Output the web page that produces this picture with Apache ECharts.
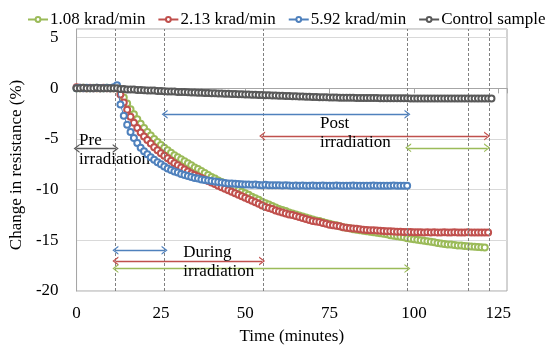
<!DOCTYPE html>
<html><head><meta charset="utf-8">
<script src="https://cdn.jsdelivr.net/npm/echarts@6/dist/echarts.min.js"></script>
<style>html,body{margin:0;padding:0;background:#fff}#c{width:550px;height:351px}</style>
</head><body><div id="c"></div>
<script>
// sampling times (minutes)
const minutes = [0,1,2,3,4,5,6,7,8,9,10,11,12,13,14,15,16,17,18,19,20,21,22,23,24,25,26,27,28,29,30,31,32,33,34,35,36,37,38,39,40,41,42,43,44,45,46,47,48,49,50,51,52,53,54,55,56,57,58,59,60,61,62,63,64,65,66,67,68,69,70,71,72,73,74,75,76,77,78,79,80,81,82,83,84,85,86,87,88,89,90,91,92,93,94,95,96,97,98,99,100,101,102,103,104,105,106,107,108,109,110,111,112,113,114,115,116,117,118,119,120,121,122,123];
const seriesNames = ['1.08 krad/min','2.13 krad/min','5.92 krad/min','Control sample'];
const green108 = [0,0,0.05,0,0,0.05,0,0,0,0.05,0,0,0.05,
 -0.3,-0.9,-1.5,-2.05,-2.55,-3.05,-3.5,-3.9,-4.3,-4.65,
 -5.0,-5.3,-5.6,-5.85,-6.1,-6.35,-6.6,-6.8,-7.0,-7.2,
 -7.4,-7.6,-7.8,-7.95,-8.15,-8.35,-8.55,-8.75,-8.9,-9.1,
 -9.25,-9.45,-9.6,-9.75,-9.9,-10.05,-10.2,-10.35,-10.5,-10.7,
 -10.85,-11.0,-11.2,-11.35,-11.45,-11.6,-11.75,-11.9,-12.0,-12.1,
 -12.25,-12.35,-12.45,-12.55,-12.65,-12.75,-12.85,-12.95,-13.05,-13.1,
 -13.2,-13.3,-13.35,-13.45,-13.5,-13.6,-13.7,-13.75,-13.8,-13.9,
 -13.95,-14.0,-14.05,-14.1,-14.15,-14.2,-14.25,-14.3,-14.35,-14.4,
 -14.5,-14.55,-14.6,-14.65,-14.7,-14.8,-14.85,-14.9,-14.95,-15.0,
 -15.05,-15.1,-15.15,-15.2,-15.25,-15.3,-15.35,-15.4,-15.42,-15.45,
 -15.5,-15.52,-15.55,-15.58,-15.6,-15.63,-15.65,-15.68,-15.7];
const red213 = [0.1,0.05,0,0,0.05,0,0,0,0.05,0,0,0,0.1,
 -0.6,-1.4,-2.1,-2.8,-3.4,-3.9,-4.35,-4.75,-5.1,-5.45,
 -5.8,-6.1,-6.4,-6.65,-6.9,-7.15,-7.4,-7.6,-7.8,-8.0,
 -8.2,-8.4,-8.55,-8.7,-8.85,-9.0,-9.15,-9.3,
 -9.45,-9.6,-9.75,-9.9,-10.05,-10.2,-10.35,-10.5,-10.65,-10.8,
 -10.95,-11.1,-11.25,-11.4,-11.55,-11.7,-11.8,-11.9,-12.05,-12.15,
 -12.25,-12.35,-12.45,-12.5,-12.6,-12.7,-12.8,-12.9,-13.0,-13.1,
 -13.15,-13.2,-13.3,-13.35,-13.45,-13.5,-13.55,-13.6,-13.7,-13.75,
 -13.8,-13.82,-13.85,-13.9,-13.95,-13.97,-14.0,-14.0,-14.02,-14.05,
 -14.08,-14.1,-14.1,-14.12,-14.15,
 -14.15,-14.17,-14.18,-14.18,-14.2,-14.2,-14.2,-14.22,-14.2,-14.22,
 -14.2,-14.22,-14.22,-14.2,-14.22,-14.22,-14.2,-14.22,-14.22,-14.22,
 -14.2,-14.22,-14.22,-14.22,-14.22,-14.22,-14.22];
const blue592 = [0,0.05,0,0.05,0,0,0.05,0,0,0.05,0,0.1,0.3,
 -1.6,-2.7,-3.6,-4.3,-4.9,-5.4,-5.85,-6.2,-6.5,-6.8,
 -7.05,-7.3,-7.5,-7.7,-7.9,-8.05,-8.2,-8.3,-8.45,-8.55,
 -8.65,-8.75,-8.85,-8.9,-9.0,-9.05,-9.1,-9.15,-9.2,-9.25,
 -9.3,-9.35,-9.38,-9.4,-9.42,-9.45,-9.47,-9.5,
 -9.5,-9.52,-9.5,-9.53,-9.55,-9.52,-9.55,-9.56,-9.55,-9.57,
 -9.58,-9.57,-9.58,-9.6,-9.58,-9.6,-9.58,-9.6,-9.6,-9.58,
 -9.6,-9.6,-9.58,-9.6,-9.6,-9.6,-9.58,-9.6,-9.6,-9.6,
 -9.6,-9.58,-9.6,-9.6,-9.6,-9.6,-9.6,-9.58,-9.6,-9.6,
 -9.6,-9.6,-9.6,-9.58,-9.6,-9.6,-9.6,-9.6];
const controlSample = [0,0,0.05,0,0,0,0.05,0,0,0,0,0,0,
 -0.05,-0.05,-0.1,-0.1,-0.12,-0.15,-0.15,-0.18,-0.2,-0.2,
 -0.22,-0.25,-0.25,-0.28,-0.3,-0.3,-0.32,-0.35,-0.35,-0.37,
 -0.38,-0.4,-0.4,-0.42,-0.43,-0.45,-0.45,-0.47,-0.48,-0.5,
 -0.5,-0.52,-0.53,-0.55,-0.55,-0.57,-0.58,-0.6,-0.6,-0.62,
 -0.63,-0.65,-0.65,-0.67,-0.68,-0.7,-0.7,-0.72,-0.73,-0.75,
 -0.75,-0.77,-0.78,-0.8,-0.8,-0.82,-0.83,-0.85,-0.85,-0.87,
 -0.88,-0.88,-0.9,-0.9,-0.9,-0.92,-0.92,-0.93,-0.93,-0.93,
 -0.95,-0.95,-0.95,-0.95,-0.96,-0.96,-0.96,-0.97,-0.97,-0.97,
 -0.97,-0.98,-0.98,-0.98,-0.98,-0.98,-0.99,-0.99,-0.99,-0.99,
 -1.0,-1.0,-1.0,-1.0,-1.0,-1.0,-1.0,-1.0,-1.0,-1.0,
 -1.0,-1.0,-1.0,-1.0,-1.0,-1.0,-1.0,-1.0,-1.0,-1.0,-1.0];
const xTickLabels = [0,25,50,75,100,125];
const yTickLabels = [-20,-15,-10,-5,0,5];
// phase boundaries (minutes), drawn as dashed vertical lines
const phaseLines = [11.6, 26.1, 55.3, 98.1, 116.0, 122.2];
// double arrows: start, end (minutes), level (%)
const arrowFrom = [0, 26.1, 55.0, 98.3, 11.5, 11.5, 11.5];
const arrowTo   = [11.6, 98.1, 121.7, 121.7, 26.1, 55.0, 98.1];
const arrowY    = [-5.93, -2.55, -4.71, -5.87, -15.98, -17.04, -17.79];
const arrowSeries = [3, 2, 1, 0, 2, 1, 0];
// phase labels
const noteText = ['Pre\nirradiation', 'Post\nirradiation', 'During\nirradiation'];
const noteX = [0.6, 72.0, 31.5];
const noteY = [-6.1, -4.45, -17.1];

const FONT = '"Liberation Serif","Times New Roman",serif';
const colors = ['#9BBB59', '#C0504D', '#4F81BD', '#595959'];
const values = [green108, red213, blue592, controlSample];
const chevron = 'path://M0,10 L5,0 L10,10 L8.4,10 L5,3.2 L1.6,10 Z';

const chart = echarts.init(document.getElementById('c'), null, {renderer: 'canvas'});
const dataSeries = seriesNames.map((n, k) => ({
  name: n, type: 'line',
  data: values[k].map((v, i) => [minutes[i], v]),
  symbol: 'emptyCircle', symbolSize: 6,
  lineStyle: {width: 1, color: colors[k]},
  itemStyle: {color: colors[k], borderWidth: 1.1},
  animation: false, z: 3 + k
}));
const option = {
  animation: false,
  color: colors,
  legend: {
    data: seriesNames, top: 6, left: 22, width: 528, itemGap: 12, itemWidth: 20, itemHeight: 6,
    textStyle: {fontSize: 17, fontFamily: FONT, color: '#000', padding: [0, 0, 0, -3]}
  },
  grid: {left: 70, right: 43, top: 29, bottom: 60, show: true, borderColor: '#A6A6A6', borderWidth: 1},
  xAxis: {
    type: 'value', min: 0, max: 127.6, interval: 25,
    axisLine: {show: true, lineStyle: {color: '#A6A6A6'}},
    axisTick: {show: true, length: 5, lineStyle: {color: '#A6A6A6'}},
    axisLabel: {margin: 14, fontSize: 17, fontFamily: FONT, color: '#000',
      formatter: v => xTickLabels.includes(v) ? String(v) : ''},
    splitLine: {show: false},
    name: 'Time (minutes)', nameLocation: 'middle', nameGap: 37,
    nameTextStyle: {fontSize: 17, fontFamily: FONT, color: '#000'}
  },
  yAxis: {
    type: 'value', min: -20, max: 5.86, interval: 5,
    axisLine: {show: true, lineStyle: {color: '#A6A6A6'}},
    axisTick: {show: false},
    axisLabel: {margin: 18, fontSize: 17, fontFamily: FONT, color: '#000',
      formatter: v => yTickLabels.includes(v) ? String(v) : ''},
    splitLine: {show: true, lineStyle: {color: '#D9D9D9', width: 1}},
    name: 'Change in resistance (%)', nameLocation: 'middle', nameGap: 44,
    nameTextStyle: {fontSize: 17, fontFamily: FONT, color: '#000', padding: [0, 0, 0, -10]}
  },
  series: dataSeries.concat([
    {
      type: 'line', data: [], silent: true, z: 2,
      markLine: {
        silent: true, symbol: 'none', animation: false,
        label: {show: false},
        lineStyle: {type: [3, 2], color: '#808080', width: 1},
        data: phaseLines.map(x => ({xAxis: x}))
      }
    },
    {
      type: 'line', data: [], silent: true, z: 10,
      markLine: {
        silent: true, symbol: [chevron, chevron], symbolSize: [9, 6], animation: false,
        label: {show: false},
        data: arrowFrom.map((f, i) => [
          {coord: [f, arrowY[i]], lineStyle: {color: colors[arrowSeries[i]], width: 1.4, type: 'solid'},
           itemStyle: {color: colors[arrowSeries[i]]}},
          {coord: [arrowTo[i], arrowY[i]]}
        ])
      },
      markPoint: {
        silent: true, symbol: 'circle', symbolSize: 1, animation: false,
        itemStyle: {color: 'rgba(0,0,0,0)'},
        label: {show: true, position: 'right', distance: 0, color: '#000',
          fontSize: 17, fontFamily: FONT, lineHeight: 19, align: 'left'},
        data: noteText.map((t, i) => ({coord: [noteX[i], noteY[i]], value: t,
          label: {formatter: t}}))
      }
    }
  ])
};
chart.setOption(option);
</script>
</body></html>
